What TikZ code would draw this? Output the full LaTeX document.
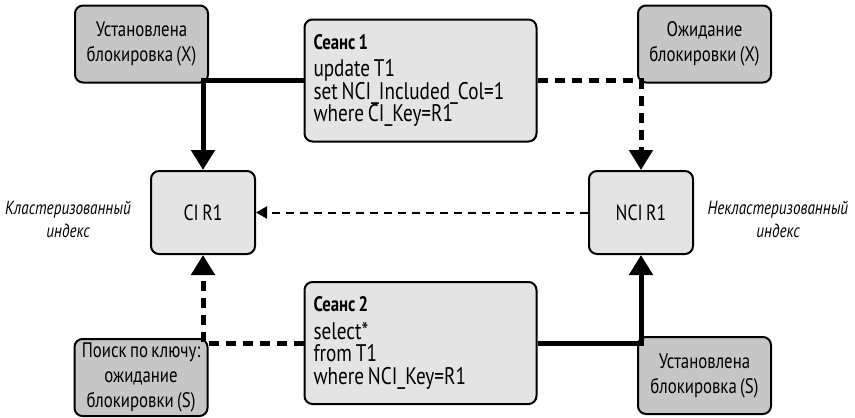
\documentclass[tikz,border=0pt]{standalone}
\usepackage{fontspec}
\setmainfont{PT Sans}[FakeStretch=0.8, WordSpace=0.75]
\usetikzlibrary{arrows.meta,positioning}
\definecolor{lockgray}{HTML}{C6C6C6}
\definecolor{lightgray}{HTML}{E4E4E4}
\newcommand{\sesshead}[1]{{\fontsize{21}{22}\selectfont\bfseries #1}\\[5pt]}

\begin{document}
\begin{tikzpicture}[x=1pt, y=-1pt,
    box/.style={draw=black, line width=2pt, rounded corners=8pt, inner sep=2pt},
    lockbox/.style={box, fill=lockgray, minimum width=133pt, minimum height=77pt, align=center, font=\fontsize{21}{25}\selectfont},
    sessbox/.style={box, fill=lightgray, minimum width=232pt, minimum height=122pt, text width=214pt, align=flush left, font=\fontsize{24}{22.5}\selectfont},
    idxbox/.style={box, fill=lightgray, minimum width=104pt, minimum height=83pt, font=\fontsize{22}{25}\selectfont},
    idxlabel/.style={font=\fontsize{19}{23}\selectfont\itshape, align=center},
    thickarrow/.style={line width=5pt, -{Triangle[length=20pt, width=23pt]}},
    dasharrow/.style={line width=5pt, dash pattern=on 10pt off 7pt, -{Triangle[length=20pt, width=23pt]}},
    thinarrow/.style={line width=2pt, dash pattern=on 8pt off 6pt, -{Triangle[length=11pt, width=12pt]}}
]
\useasboundingbox (0,0) rectangle (855,418);

\node[lockbox] (lockx) at (141.5,44) {Установлена\\блокировка (X)};
\node[sessbox] (sess1) at (420.5,80.5) {\sesshead{Сеанс 1}update T1\\set NCI\_Included\_Col=1\\where CI\_Key=R1};
\node[lockbox] (waitx) at (704.5,44) {Ожидание\\блокировки (X)};
\node[idxbox] (ci) at (203,212.5) {CI R1};
\node[idxbox] (nci) at (641,212.5) {NCI R1};
\node[sessbox] (sess2) at (420.5,343) {\sesshead{Сеанс 2}select*\\from T1\\where NCI\_Key=R1};
\node[lockbox] (waits) at (141,377.5) {Поиск по ключу:\\ожидание\\блокировки (S)};
\node[lockbox] (locks) at (704.5,375.5) {Установлена\\блокировка (S)};

\node[idxlabel] (cilabel) at (68,219) {Кластеризованный\\индекс};
\node[idxlabel] (ncilabel) at (778,219) {Некластеризованный\\индекс};

\draw[thickarrow] (sess1.west) -| (ci.north);
\draw[dasharrow] (sess1.east) -| (nci.north);
\draw[thinarrow] (nci.west) -- (ci.east);
\draw[dasharrow] (sess2.west) -| (ci.south);
\draw[thickarrow] (sess2.east) -| (nci.south);

\end{tikzpicture}
\end{document}
